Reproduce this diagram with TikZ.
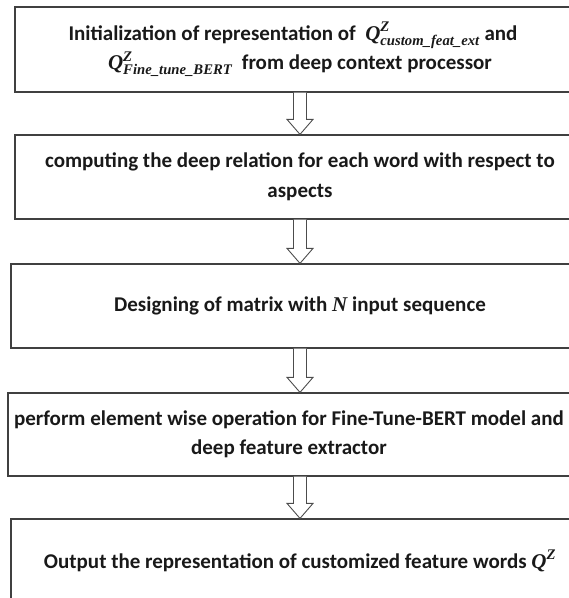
\documentclass[tikz,border=0pt]{standalone}
\usepackage{amsmath}
\usepackage{fontspec}
\setmainfont{Carlito}
\newfontfamily\symfont{Liberation Serif}
\newcommand{\sym}[1]{\text{\symfont\bfseries\itshape #1}}
\usetikzlibrary{calc}
\begin{document}
\begin{tikzpicture}[x=1pt,y=-1pt,
  stagebox/.style={draw=black!75,line width=1.2pt,rectangle,align=center,
    font=\fontsize{21}{29.5}\selectfont\bfseries,text=black!90,inner sep=0pt},
  hollowarrow/.style={draw=black!70,line width=0.9pt,fill=white,line join=miter}]
\useasboundingbox (0,0) rectangle (569,598);
% flow stages, all centred on the same vertical axis
\node[stagebox,minimum width=570pt,minimum height=85pt] (b1) at (300,49.5)
  {Initialization of representation of \ $\sym{Q}^{\sym{Z}}_{\sym{custom\_feat\_ext}}$ and\hspace*{14pt}\\
   $\sym{Q}^{\sym{Z}}_{\sym{Fine\_tune\_BERT}}$\ \ from deep context processor};
\node[stagebox,minimum width=570pt,minimum height=84pt] (b2) at (300,177)
  {computing the deep relation for each word with respect to\\ aspects};
\node[stagebox,minimum width=578pt,minimum height=84pt] (b3) at (300,306)
  {Designing of matrix with $\sym{N}$ input sequence};
\node[stagebox,minimum width=584pt,minimum height=83pt] (b4) at (300,434.5)
  {perform element wise operation for Fine-Tune-BERT model and\hspace*{22pt}\\
   deep feature extractor\hspace*{22pt}};
\node[stagebox,minimum width=578pt,minimum height=84pt] (b5) at (300,561)
  {Output the representation of customized feature words $\sym{Q}^{\sym{Z}}$};
% hollow block arrows between consecutive stages
\foreach \a/\b in {b1/b2,b2/b3,b3/b4,b4/b5}{
  \draw[hollowarrow]
    ($(\a.south)+(-6.5,0)$) -- ($(\b.north)+(-6.5,-15)$) -- ($(\b.north)+(-13,-15)$)
    -- (\b.north) -- ($(\b.north)+(13,-15)$) -- ($(\b.north)+(6.5,-15)$)
    -- ($(\a.south)+(6.5,0)$);
}
\end{tikzpicture}
\end{document}
